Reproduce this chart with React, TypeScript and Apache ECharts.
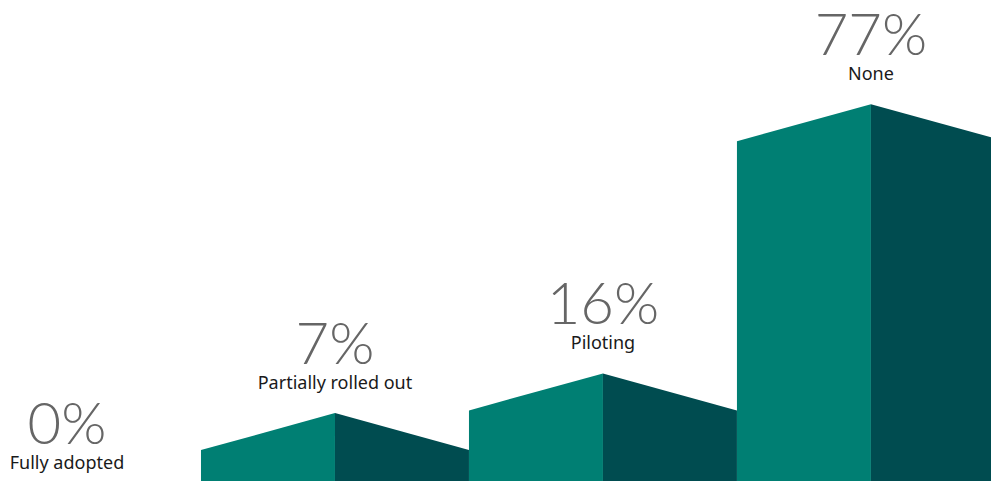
import React, { useEffect, useRef } from "react";
import * as echarts from "echarts";

const categories = ["Fully adopted", "Partially rolled out", "Piloting", "None"];
const values = [0, 7, 16, 77];
const valueLabels = ["0%", "7%", "16%", "77%"];

const FRONT = "#007f73";
const SIDE = "#004c50";

export default function App() {
  const ref = useRef<HTMLDivElement>(null);
  useEffect(() => {
    if (!ref.current) return;
    const chart = echarts.init(ref.current, undefined, { renderer: "svg" });
    chart.setOption({
      animation: false,
      backgroundColor: "#ffffff",
      grid: { left: 0, right: 0, top: 0, bottom: 0, containLabel: false },
      xAxis: { type: "value", min: -0.25, max: 3.448, show: false },
      yAxis: { type: "value", min: 0, max: 109, show: false },
      series: [
        {
          type: "custom",
          clip: false,
          data: values.map((v, i) => [i, v]),
          renderItem: (params: any, api: any) => {
            const i = api.value(0);
            const v = api.value(1);
            const c = api.coord([i, v]);
            const base = api.coord([i, 0]);
            const bw = api.size([1, 0])[0];
            const x0 = c[0] - bw / 2;
            const x1 = c[0];
            const x2 = c[0] + bw / 2;
            const yb = base[1];
            const yt = c[1];
            const rise = v > 0 ? 37 : 0;
            const peak = yt - rise;
            const children: any[] = [];
            if (v > 0) {
              children.push({
                type: "polygon",
                shape: { points: [[x0, yb], [x0, yt], [x1, peak], [x1, yb]] },
                style: { fill: FRONT },
              });
              children.push({
                type: "polygon",
                shape: { points: [[x1, yb], [x1, peak], [x2, yt], [x2, yb]] },
                style: { fill: SIDE },
              });
            }
            const labelY = v > 0 ? peak - 31 : yb - 19;
            children.push({
              type: "text",
              style: {
                x: x1,
                y: labelY,
                text: categories[i],
                fill: "#1a1a1a",
                font: '18px "Noto Sans", sans-serif',
                lineHeight: 20,
                align: "center",
                verticalAlign: "middle",
              },
            });
            children.push({
              type: "text",
              style: {
                x: x1,
                y: labelY - 41,
                text: valueLabels[i],
                fill: "#666666",
                font: '300 58px Lato, "Noto Sans", sans-serif',
                lineHeight: 46,
                align: "center",
                verticalAlign: "middle",
              },
            });
            return { type: "group", children };
          },
        },
      ],
    });
    return () => chart.dispose();
  }, []);
  return (
    <div
      ref={ref}
      style={{ position: "fixed", left: 0, top: 0, width: 991, height: 481 }}
    />
  );
}
